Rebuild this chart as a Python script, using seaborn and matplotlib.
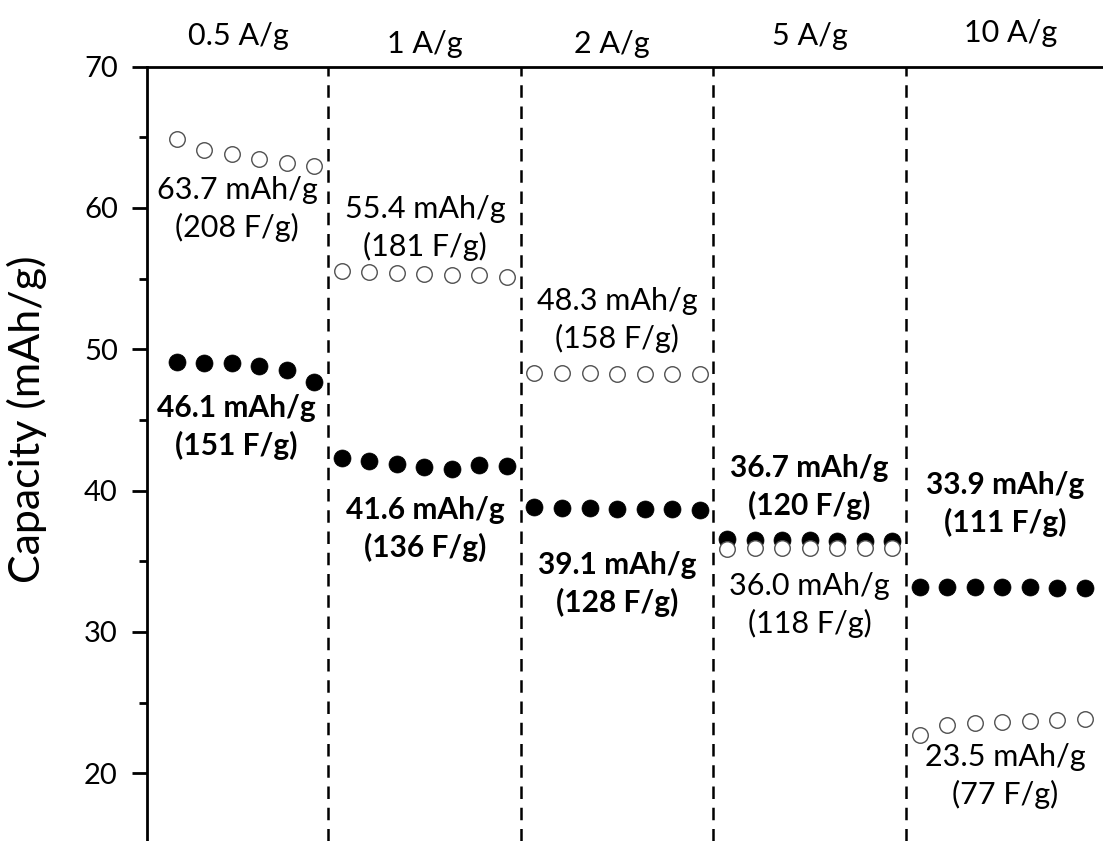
import matplotlib
matplotlib.use("Agg")
import matplotlib.pyplot as plt
from matplotlib.ticker import MultipleLocator
import numpy as np
import pandas as pd
import seaborn as sns

sns.set_style("ticks")
plt.rcParams['font.family'] = ['Lato', 'DejaVu Sans']
plt.rcParams['text.color'] = 'black'
plt.rcParams['axes.labelcolor'] = 'black'
plt.rcParams['ytick.color'] = 'black'

# Rate steps (current density) and cycles per step
rates = ['0.5 A/g', '1 A/g', '2 A/g', '5 A/g', '10 A/g']
cycles_per_rate = [6, 7, 7, 7, 7]

# Open circles (upper / lower series depending on rate)
open_vals = [64.9, 64.1, 63.8, 63.5, 63.2, 62.95,
             55.55, 55.45, 55.4, 55.3, 55.25, 55.25, 55.15,
             48.35, 48.3, 48.3, 48.25, 48.25, 48.25, 48.25,
             35.9, 35.95, 35.95, 35.95, 35.95, 35.95, 35.95,
             22.7, 23.4, 23.55, 23.65, 23.7, 23.75, 23.8]

# Filled circles
filled_vals = [49.1, 49.0, 49.0, 48.85, 48.5, 47.65,
               42.3, 42.1, 41.9, 41.7, 41.5, 41.8, 41.75,
               38.85, 38.8, 38.75, 38.7, 38.7, 38.7, 38.65,
               36.55, 36.5, 36.5, 36.5, 36.45, 36.45, 36.45,
               33.15, 33.15, 33.15, 33.15, 33.15, 33.1, 33.1]

# Average capacity labels
open_labels = ['63.7 mAh/g\n(208 F/g)', '55.4 mAh/g\n(181 F/g)', '48.3 mAh/g\n(158 F/g)',
               '36.0 mAh/g\n(118 F/g)', '23.5 mAh/g\n(77 F/g)']
filled_labels = ['46.1 mAh/g\n(151 F/g)', '41.6 mAh/g\n(136 F/g)', '39.1 mAh/g\n(128 F/g)',
                 '36.7 mAh/g\n(120 F/g)', '33.9 mAh/g\n(111 F/g)']

cycles = np.arange(1, len(open_vals) + 1)
df = pd.DataFrame({'Cycle': cycles, 'Open': open_vals, 'Filled': filled_vals})

fig = plt.figure(figsize=(11.03, 8.41), dpi=100)
ax = fig.add_axes([0.1333, 0.0, 0.8667, 0.9207])

sns.scatterplot(data=df, x='Cycle', y='Filled', ax=ax, s=150, color='black',
                edgecolor='black', linewidth=0.5, zorder=3)
sns.scatterplot(data=df, x='Cycle', y='Open', ax=ax, s=125, facecolor='white',
                edgecolor='#505050', linewidth=1.0, zorder=4)

# rate boundaries
bounds = np.cumsum(cycles_per_rate)[:-1] + 0.5
for b in bounds:
    ax.axvline(b, color='black', lw=1.8, ls=(0, (5, 3.5)), zorder=2)

# rate labels above the plot
label_x = [3.25, 10.0, 16.8, 24.0, 31.3]
label_y = [1.040, 1.029, 1.029, 1.040, 1.043]
for r, x, y in zip(rates, label_x, label_y):
    ax.text(x, y, r, transform=ax.get_xaxis_transform(), ha='center', va='center',
            fontsize=22, clip_on=False)

# capacity annotations
open_pos = [(3.19, 59.93), (10.02, 58.58), (17.0, 52.07), (24.0, 31.9), (31.1, 19.8)]
filled_pos = [(3.15, 44.5), (10.02, 37.28), (17.0, 33.39), (24.0, 40.25), (31.1, 39.05)]
for txt, (x, y) in zip(open_labels, open_pos):
    ax.text(x, y, txt, ha='center', va='center', fontsize=22, linespacing=1.35)
for txt, (x, y) in zip(filled_labels, filled_pos):
    ax.text(x, y, txt, ha='center', va='center', fontsize=21.5, fontweight='bold',
            linespacing=1.35)

ax.set_xlim(-0.08, 34.66)
ax.set_ylim(15.2, 70)
ax.yaxis.set_major_locator(MultipleLocator(10))
ax.yaxis.set_minor_locator(MultipleLocator(5))
ax.set_xticks([])
ax.set_xlabel('')
ax.set_ylabel('Capacity (mAh/g)', fontsize=31)
ax.yaxis.set_label_coords(-0.105, 0.545)
ax.tick_params(axis='y', which='major', length=11, width=2, labelsize=21, pad=10, direction='out')
ax.tick_params(axis='y', which='minor', length=6, width=2, direction='out')

for side in ['right', 'bottom']:
    ax.spines[side].set_visible(False)
for side in ['left', 'top']:
    ax.spines[side].set_linewidth(2)
    ax.spines[side].set_color('black')

if ax.get_legend():
    ax.get_legend().remove()

fig.savefig('out.png', dpi=100)
